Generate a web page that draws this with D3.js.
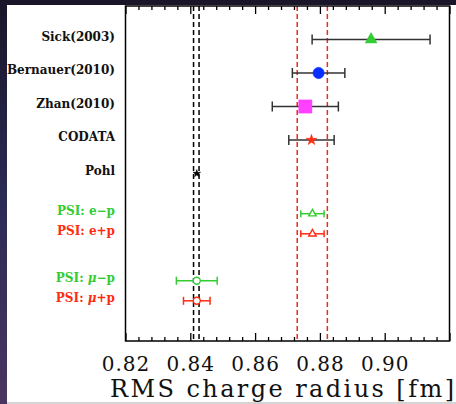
<!DOCTYPE html>
<html>
<head>
<meta charset="utf-8">
<script src="https://cdn.jsdelivr.net/npm/d3@7"></script>
<style>
  html, body { margin: 0; padding: 0; background: #1c1930; }
  svg { display: block; }
</style>
</head>
<body>
<svg id="chart" width="456" height="404"></svg>
<script>
// Proton charge radius determinations
const labels = ["Sick(2003)", "Bernauer(2010)", "Zhan(2010)", "CODATA", "Pohl",
                "PSI: e\u2212p", "PSI: e+p", "PSI: \u03bc\u2212p", "PSI: \u03bc+p"];
const rowPos = [1, 2, 3, 4, 5, 6.2, 6.8, 8.2, 8.8];
const radius = [0.8958, 0.8796, 0.8755, 0.8774, 0.8420, 0.8777, 0.8777, 0.8420, 0.8420];
const errors = [0.0182, 0.0081, 0.0102, 0.0070, 0.0007, 0.0036, 0.0036, 0.0063, 0.0041];
const symbols = ["triangle", "circle", "square", "star", "star", "triangle", "triangle", "circle", "circle"];
const filled  = [true, true, true, true, true, false, false, false, false];
const colors  = ["#33cc33", "#0a2eff", "#ff40ff", "#ff2a10", "#000000", "#33cc33", "#ff2a10", "#33cc33", "#ff2a10"];
const barColors = ["#333333", "#333333", "#333333", "#333333", "#333333", "#33cc33", "#ff2a10", "#33cc33", "#ff2a10"];
const labelColors = ["#111111", "#111111", "#111111", "#111111", "#111111", "#33cc33", "#ff2a10", "#33cc33", "#ff2a10"];
const symbolSizes = [62, 100, 175, 36, 18, 24, 24, 38, 38];
const capHalf = [5, 5, 5, 5, 0, 3.5, 3.5, 4, 4];

// Reference bands: muonic hydrogen (black) and CODATA (red)
const muonicBand = [0.8410, 0.8427];
const codataBand = [0.8730, 0.8823];

const xMajor = [0.82, 0.84, 0.86, 0.88, 0.90, 0.92];
const xTickLabels = ["0.82", "0.84", "0.86", "0.88", "0.90", ""];
const xTitle = "RMS charge radius [fm]";

(function draw() {
  const svg = d3.select("#chart");
  const W = 456, H = 404;

  // dark slide backdrop
  const defs = svg.append("defs");
  const grad = defs.append("linearGradient").attr("id", "bg")
    .attr("x1", 0).attr("y1", 0).attr("x2", 0).attr("y2", 1);
  grad.append("stop").attr("offset", 0).attr("stop-color", "#1a1528");
  grad.append("stop").attr("offset", 0.5).attr("stop-color", "#2b2a55");
  grad.append("stop").attr("offset", 1).attr("stop-color", "#4a3560");
  svg.append("rect").attr("width", W).attr("height", H).attr("fill", "url(#bg)");

  // white page
  svg.append("rect").attr("x", 7).attr("y", 5).attr("width", W - 7).attr("height", 397).attr("fill", "#ffffff");
  svg.append("rect").attr("x", 7).attr("y", 402).attr("width", W - 7).attr("height", 2).attr("fill", "#d4d4d4");

  const pL = 125.5, pR = 449.5, pT = 6, pB = 341;
  const x = d3.scaleLinear().domain([0.82, 0.92]).range([pL, pR]);
  const y = d3.scaleLinear().domain([0, 10]).range([pT, pB]);

  const minor = d3.range(0, 26).map(i => 0.82 + i * 0.004)
    .filter(v => !xMajor.some(m => Math.abs(m - v) < 1e-9));

  const plot = svg.append("g");

  // band lines
  function bandLines(vals, color) {
    plot.selectAll(null).data(vals).enter().append("line")
      .attr("x1", d => x(d)).attr("x2", d => x(d))
      .attr("y1", pT).attr("y2", pB)
      .attr("stroke", color).attr("stroke-width", 1.5)
      .attr("stroke-dasharray", "5,3");
  }
  bandLines(muonicBand, "#000000");
  bandLines(codataBand, "#ee2a1a");

  // axes: ticks point inward on bottom and top
  const axisFont = "'DejaVu Serif', serif";
  function styleTicks(g) {
    g.select(".domain").remove();
    g.selectAll(".tick line").attr("stroke", "#000").attr("stroke-width", 1.3);
  }
  const gb = svg.append("g").attr("transform", `translate(0,${pB})`)
    .call(d3.axisBottom(x).tickValues(xMajor).tickFormat((d, i) => xTickLabels[i])
      .tickSizeInner(-8).tickSizeOuter(0).tickPadding(16));
  styleTicks(gb);
  gb.selectAll(".tick text").attr("font-family", axisFont).attr("font-size", 20)
    .attr("letter-spacing", "1px").attr("fill", "#111");
  styleTicks(svg.append("g").attr("transform", `translate(0,${pB})`)
    .call(d3.axisBottom(x).tickValues(minor).tickFormat("").tickSizeInner(-4).tickSizeOuter(0)));
  styleTicks(svg.append("g").attr("transform", `translate(0,${pT})`)
    .call(d3.axisTop(x).tickValues(xMajor).tickFormat("").tickSizeInner(-8).tickSizeOuter(0)));
  styleTicks(svg.append("g").attr("transform", `translate(0,${pT})`)
    .call(d3.axisTop(x).tickValues(minor).tickFormat("").tickSizeInner(-4).tickSizeOuter(0)));

  // frame
  svg.append("rect").attr("x", pL).attr("y", pT).attr("width", pR - pL).attr("height", pB - pT)
    .attr("fill", "none").attr("stroke", "#000").attr("stroke-width", 1.5);

  // axis title
  svg.append("text").attr("x", 110).attr("y", 397)
    .attr("font-family", axisFont).attr("font-size", 24).attr("fill", "#111")
    .attr("textLength", 344).attr("lengthAdjust", "spacing")
    .text(xTitle);

  const rows = labels.map((l, i) => ({
    label: l, row: rowPos[i], v: radius[i], e: errors[i], sym: symbols[i], fill: filled[i],
    color: colors[i], bar: barColors[i], lc: labelColors[i], size: symbolSizes[i], cap: capHalf[i]
  }));

  // error bars
  const eb = plot.selectAll("g.eb").data(rows).enter().append("g").attr("class", "eb");
  eb.append("line")
    .attr("x1", d => x(d.v - d.e)).attr("x2", d => x(d.v + d.e))
    .attr("y1", d => y(d.row)).attr("y2", d => y(d.row))
    .attr("stroke", d => d.bar).attr("stroke-width", 1.5);
  eb.filter(d => d.cap > 0).selectAll("line.cap")
    .data(d => [[d, d.v - d.e], [d, d.v + d.e]]).enter().append("line")
    .attr("x1", p => x(p[1])).attr("x2", p => x(p[1]))
    .attr("y1", p => y(p[0].row) - p[0].cap).attr("y2", p => y(p[0].row) + p[0].cap)
    .attr("stroke", p => p[0].bar).attr("stroke-width", 1.5);

  // markers
  const symType = { triangle: d3.symbolTriangle, circle: d3.symbolCircle, square: d3.symbolSquare, star: d3.symbolStar };
  plot.selectAll("path.mk").data(rows).enter().append("path")
    .attr("transform", d => `translate(${x(d.v)},${y(d.row)})`)
    .attr("d", d => d3.symbol().type(symType[d.sym]).size(d.size)())
    .attr("fill", d => d.fill ? d.color : "#ffffff")
    .attr("stroke", d => d.color)
    .attr("stroke-width", d => d.fill ? 0.5 : 1.4);

  // row labels
  const lab = svg.selectAll("text.lab").data(rows).enter().append("text")
    .attr("class", "lab")
    .attr("x", 115).attr("y", d => y(d.row) + 1)
    .attr("text-anchor", "end")
    .attr("font-family", axisFont).attr("font-weight", "bold").attr("font-size", 12)
    .attr("fill", d => d.lc);
  lab.each(function(d) {
    const t = d3.select(this);
    const k = d.label.indexOf("\u03bc");
    if (k < 0) { t.text(d.label); return; }
    t.append("tspan").text(d.label.slice(0, k));
    t.append("tspan").attr("font-style", "italic").text("\u03bc");
    t.append("tspan").text(d.label.slice(k + 1));
  });

  // backdrop strip along the left edge of the page
  svg.append("rect").attr("x", 0).attr("y", 0).attr("width", 7).attr("height", H).attr("fill", "url(#bg)");
})();
</script>
</body>
</html>
